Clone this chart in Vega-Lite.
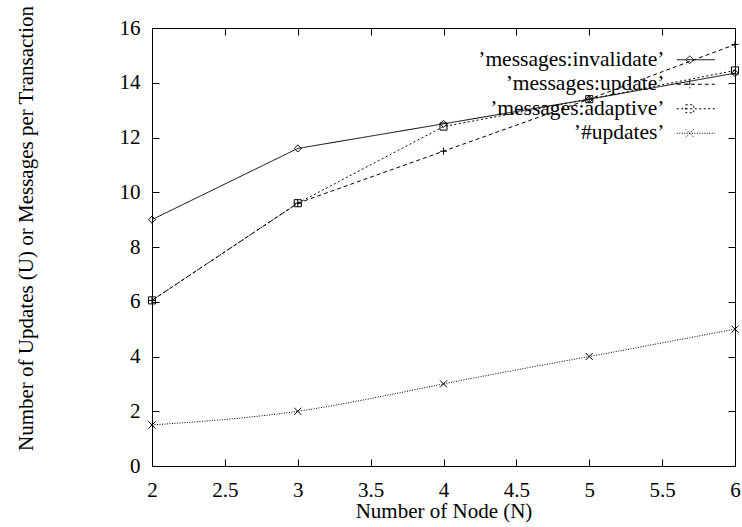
{
  "$schema": "https://vega.github.io/schema/vega-lite/v6.json",
  "width": 583,
  "height": 438,
  "autosize": "none",
  "padding": {"left": 152, "top": 28, "right": 7, "bottom": 61},
  "background": "white",
  "config": {
    "font": "Liberation Serif",
    "view": {"stroke": "black", "strokeWidth": 1},
    "axis": {
      "domain": false,
      "grid": false,
      "tickColor": "black",
      "tickWidth": 1,
      "tickSize": -7,
      "labelFont": "Liberation Serif",
      "labelFontSize": 21,
      "labelColor": "black",
      "titleFont": "Liberation Serif",
      "titleFontSize": 21,
      "titleFontWeight": "normal",
      "titleColor": "black",
      "labelFlush": false,
      "labelOverlap": false,
      "labelBound": false
    },
    "legend": {
      "labelLimit": 400
    }
  },
  "data": {
    "values": [
      {"series": "’messages:invalidate’", "n": 2, "v": 9.0},
      {"series": "’messages:invalidate’", "n": 3, "v": 11.6},
      {"series": "’messages:invalidate’", "n": 4, "v": 12.5},
      {"series": "’messages:invalidate’", "n": 5, "v": 13.4},
      {"series": "’messages:invalidate’", "n": 6, "v": 14.35},
      {"series": "’messages:update’", "n": 2, "v": 6.05},
      {"series": "’messages:update’", "n": 3, "v": 9.6},
      {"series": "’messages:update’", "n": 4, "v": 11.5},
      {"series": "’messages:update’", "n": 5, "v": 13.4},
      {"series": "’messages:update’", "n": 6, "v": 15.4},
      {"series": "’messages:adaptive’", "n": 2, "v": 6.05},
      {"series": "’messages:adaptive’", "n": 3, "v": 9.6},
      {"series": "’messages:adaptive’", "n": 4, "v": 12.4},
      {"series": "’messages:adaptive’", "n": 5, "v": 13.4},
      {"series": "’messages:adaptive’", "n": 6, "v": 14.45},
      {"series": "’#updates’", "n": 2, "v": 1.5},
      {"series": "’#updates’", "n": 3, "v": 2.0},
      {"series": "’#updates’", "n": 4, "v": 3.0},
      {"series": "’#updates’", "n": 5, "v": 4.0},
      {"series": "’#updates’", "n": 6, "v": 5.0}
    ]
  },
  "layer": [
    {
      "transform": [{"filter": "datum.series !== '’#updates’'"}],
      "mark": {"type": "line", "color": "black", "strokeWidth": 1, "clip": true},
      "encoding": {
        "x": {
          "field": "n", "type": "quantitative",
          "scale": {"domain": [2, 6], "nice": false, "zero": false},
          "axis": {
            "orient": "bottom",
            "title": "Number of Node (N)",
            "values": [2, 2.5, 3, 3.5, 4, 4.5, 5, 5.5, 6],
            "format": "~g",
            "labelBaseline": "alphabetic",
            "labelPadding": 37,
            "titleBaseline": "alphabetic",
            "titleY": 51
          }
        },
        "y": {
          "field": "v", "type": "quantitative",
          "scale": {"domain": [0, 16], "nice": false},
          "axis": {
            "orient": "left",
            "title": "Number of Updates (U) or Messages per Transaction",
            "values": [0, 2, 4, 6, 8, 10, 12, 14, 16],
            "labelPadding": 19,
            "titleX": -116,
            "titleY": 200,
            "titleAngle": -90,
            "titleBaseline": "bottom",
            "titleAlign": "center"
          }
        },
        "strokeDash": {
          "field": "series", "type": "nominal",
          "scale": {
            "domain": ["’messages:invalidate’", "’messages:update’", "’messages:adaptive’", "’#updates’"],
            "range": [[1, 0], [4, 3], [2, 2.5], [1, 1.5]]
          },
          "legend": {
            "title": null,
            "orient": "none",
            "legendX": 533,
            "legendY": 21,
            "padding": 0,
            "labelAlign": "right",
            "labelOffset": -42,
            "labelFontSize": 21.5,
            "labelFont": "Liberation Serif",
            "labelColor": "black",
            "labelLimit": 400,
            "symbolSize": 100,
            "symbolStrokeWidth": 1,
            "symbolStrokeColor": "black",
            "rowPadding": 1.5,
            "encode": {
              "symbols": {
                "update": {
                  "shape": {"signal": "datum.index === 0 ? 'M-3.8,0L3.8,0M-1.2,-0.8L-0.4,0L-1.2,0.8L-2,0Z' : datum.index === 1 ? 'M-3.8,0L3.8,0M-2,0L-0.4,0M-1.2,-0.8L-1.2,0.8' : datum.index === 2 ? 'M-3.8,0L3.8,0M-2,-0.8L-0.4,-0.8L-0.4,0.8L-2,0.8Z' : 'M-3.8,0L3.8,0M-2,-0.8L-0.4,0.8M-2,0.8L-0.4,-0.8'"},
                  "stroke": {"value": "black"},
                  "fill": {"value": "transparent"}
                }
              }
            }
          }
        }
      }
    },
    {
      "transform": [{"filter": "datum.series === '’#updates’'"}],
      "mark": {"type": "line", "color": "black", "strokeWidth": 1, "interpolate": "natural", "clip": true},
      "encoding": {
        "x": {
          "field": "n", "type": "quantitative",
          "axis": {"orient": "top", "labels": false, "title": null, "values": [2, 2.5, 3, 3.5, 4, 4.5, 5, 5.5, 6]}
        },
        "y": {
          "field": "v", "type": "quantitative",
          "axis": {"orient": "right", "labels": false, "title": null, "values": [0, 2, 4, 6, 8, 10, 12, 14, 16]}
        },
        "strokeDash": {
          "field": "series", "type": "nominal",
          "legend": {
            "title": null,
            "orient": "none",
            "legendX": 533,
            "legendY": 21,
            "padding": 0,
            "labelAlign": "right",
            "labelOffset": -42,
            "labelFontSize": 21.5,
            "labelFont": "Liberation Serif",
            "labelColor": "black",
            "labelLimit": 400,
            "symbolSize": 100,
            "symbolStrokeWidth": 1,
            "symbolStrokeColor": "black",
            "rowPadding": 1.5,
            "encode": {
              "symbols": {
                "update": {
                  "shape": {"signal": "datum.index === 0 ? 'M-3.8,0L3.8,0M-1.2,-0.8L-0.4,0L-1.2,0.8L-2,0Z' : datum.index === 1 ? 'M-3.8,0L3.8,0M-2,0L-0.4,0M-1.2,-0.8L-1.2,0.8' : datum.index === 2 ? 'M-3.8,0L3.8,0M-2,-0.8L-0.4,-0.8L-0.4,0.8L-2,0.8Z' : 'M-3.8,0L3.8,0M-2,-0.8L-0.4,0.8M-2,0.8L-0.4,-0.8'"},
                  "stroke": {"value": "black"},
                  "fill": {"value": "transparent"}
                }
              }
            }
          }
        }
      }
    },
    {
      "transform": [{"filter": "datum.series === '’messages:invalidate’'"}],
      "mark": {"type": "point", "filled": false, "color": "black", "strokeWidth": 1, "size": 50, "opacity": 1, "shape": "M0,-1L1,0L0,1L-1,0Z"},
      "encoding": {
        "x": {"field": "n", "type": "quantitative", "axis": null},
        "y": {"field": "v", "type": "quantitative", "axis": null}
      }
    },
    {
      "transform": [{"filter": "datum.series === '’messages:update’'"}],
      "mark": {"type": "point", "filled": false, "color": "black", "strokeWidth": 1, "size": 50, "opacity": 1, "shape": "M-1,0L1,0M0,-1L0,1"},
      "encoding": {
        "x": {"field": "n", "type": "quantitative", "axis": null},
        "y": {"field": "v", "type": "quantitative", "axis": null}
      }
    },
    {
      "transform": [{"filter": "datum.series === '’messages:adaptive’'"}],
      "mark": {"type": "point", "filled": false, "color": "black", "strokeWidth": 1, "size": 50, "opacity": 1, "shape": "M-1,-1L1,-1L1,1L-1,1Z"},
      "encoding": {
        "x": {"field": "n", "type": "quantitative", "axis": null},
        "y": {"field": "v", "type": "quantitative", "axis": null}
      }
    },
    {
      "transform": [{"filter": "datum.series === '’#updates’'"}],
      "mark": {"type": "point", "filled": false, "color": "black", "strokeWidth": 1, "size": 50, "opacity": 1, "shape": "M-1,-1L1,1M-1,1L1,-1"},
      "encoding": {
        "x": {"field": "n", "type": "quantitative", "axis": null},
        "y": {"field": "v", "type": "quantitative", "axis": null}
      }
    }
  ],
  "resolve": {"axis": {"x": "independent", "y": "independent"}}
}
